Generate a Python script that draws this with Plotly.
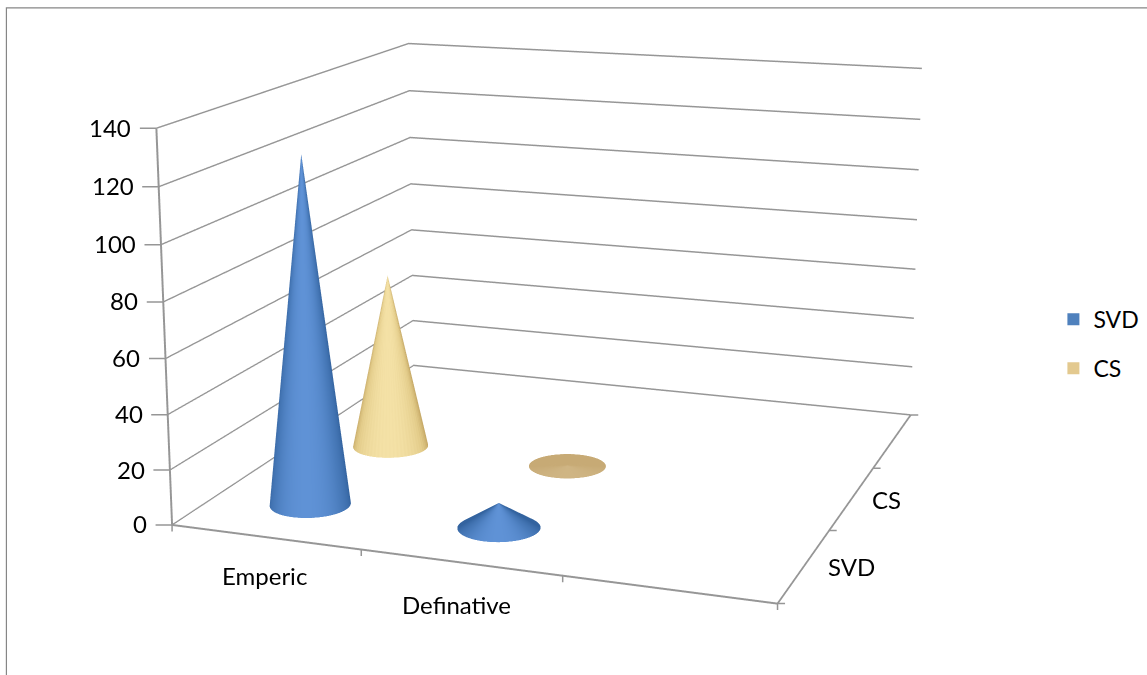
import numpy as np
import plotly.graph_objects as go

categories = ["Emperic", "Definative"]
series_names = ["SVD", "CS"]
svd_values = [127, 9]
cs_values = [67.5, 0.3]
z_ticks = [0, 20, 40, 60, 80, 100, 120, 140]
x_edges = [-0.5, 0.5, 1.5, 2.5]
y_edges = [-0.5, 0.5, 1.5, 2.5]

# Camera (Excel-style off-axis perspective)
ASP = dict(x=1.5, y=1.4815, z=0.9715)
EYE = np.array([1.9131, -5.4172, 1.4287])
YAW, PITCH, ROLL = -0.3550, 0.2164, -0.0043
CX, CY, H = 531.59, 221.15, 1922
W = 1240
dx = W / 2 - CX
dy = H / 2 - CY

f = np.array([np.cos(PITCH) * np.sin(YAW), np.cos(PITCH) * np.cos(YAW), -np.sin(PITCH)])
r0 = np.array([f[1], -f[0], 0.0]); r0 /= np.linalg.norm(r0)
u0 = np.cross(r0, f)
UP = -np.sin(ROLL) * r0 + np.cos(ROLL) * u0
CEN = EYE + f * np.linalg.norm(EYE)


def px(x):
    return (x + dx) / W


def py(y):
    return 1 - (y + dy) / H


RAD_X = 0.2
RAD_Y = RAD_X * ASP["x"] / ASP["y"]
view = np.arctan2(-f[1], -f[0])


def cone(xc, yc, h, stops, grain=0.0):
    th = np.linspace(0, 2 * np.pi, 241)
    T_, R = np.meshgrid(th, np.array([0, 1]))
    X = xc + RAD_X * R * np.cos(T_)
    Y = yc + RAD_Y * R * np.sin(T_)
    Z = h * (1 - R)
    S = np.clip(np.cos(T_ - view), 0, 1) + grain * np.sin(60 * T_)
    return go.Surface(x=X, y=Y, z=Z, surfacecolor=np.clip(S, 0, 1), cmin=0, cmax=1, colorscale=stops,
                      showscale=False, hoverinfo="skip",
                      lighting=dict(ambient=1, diffuse=0, specular=0, roughness=1, fresnel=0))


blue = [[0, "#33639f"], [0.6, "#4a7cbc"], [1, "#5f92d6"]]
tan = [[0, "#c2a461"], [0.5, "#e3cc8a"], [1, "#f4e1a6"]]
flat = [[0, "#c7aa75"], [1, "#cfb584"]]

fig = go.Figure()
for i in range(2):
    fig.add_trace(cone(i, 1, cs_values[i], flat if cs_values[i] < 1 else tan, 0.04))
for i in range(2):
    fig.add_trace(cone(i, 0, svd_values[i], blue))
for n, c in zip(series_names, ["#4f81bd", "#e3c98f"]):
    fig.add_trace(go.Scatter3d(x=[None], y=[None], z=[None], mode="markers", name=n, legendgroup=n,
                               marker=dict(symbol="square", size=16, color=c)))

GR = "#969696"
ax = dict(showbackground=False, showspikes=False, showgrid=False, zeroline=False, showline=True,
          linecolor=GR, linewidth=4, title="", ticks="", showticklabels=False)
TXT = dict(family="Lato", size=24, color="#000")
tick = dict(text="", showarrow=True, arrowhead=0, arrowwidth=1.5, arrowcolor=GR, standoff=0)
ann = []
for v in z_ticks:
    ann.append(dict(x=-0.5, y=-0.5, z=v, text=str(v), showarrow=False, xanchor="right", xshift=-23, yshift=1, font=TXT))
    ann.append(dict(tick, x=-0.5, y=-0.5, z=v, ax=-18, ay=0))
for i, (c, sx, sy) in enumerate(zip(categories, [-1, -4], [-38, -42])):
    ann.append(dict(x=i, y=-0.5, z=0, text=c, showarrow=False, xshift=sx, yshift=sy, font=TXT))
for v in x_edges:
    ann.append(dict(tick, x=v, y=-0.5, z=0, ax=0, ay=8))
for v in y_edges:
    ann.append(dict(tick, x=2.5, y=v, z=0, ax=9, ay=0))
for i, (c, sx) in enumerate(zip(series_names, [22, 18])):
    ann.append(dict(x=2.5, y=i, z=0, text=c, showarrow=False, xanchor="left", xshift=sx, yshift=-1, font=TXT))

fig.update_layout(
    width=W, height=H, margin=dict(l=0, r=0, t=0, b=0), paper_bgcolor="white", font=TXT,
    legend=dict(x=px(1053), y=py(344), xanchor="left", yanchor="middle", itemsizing="constant", tracegroupgap=16,
                font=dict(family="Lato", size=23, color="#000")),
    scene=dict(domain=dict(x=[0, 1], y=[0, 1]), aspectmode="manual", aspectratio=ASP,
               camera=dict(eye=dict(zip("xyz", map(float, EYE))), center=dict(zip("xyz", map(float, CEN))),
                           up=dict(zip("xyz", map(float, UP))), projection=dict(type="perspective")),
               xaxis=dict(ax, range=[-0.5, 2.5], tickvals=[0, 1]),
               yaxis=dict(ax, range=[-0.5, 2.5], tickvals=[0, 1]),
               zaxis=dict(ax, range=[0, 140], tickvals=z_ticks, showgrid=True, gridcolor=GR, gridwidth=3),
               annotations=ann),
    shapes=[dict(type="rect", xref="paper", yref="paper", x0=px(6), x1=1, y0=0, y1=py(8),
                 line=dict(color="#868686", width=1.2))],
)
post = ("var g=document.getElementById('{plot_id}');document.documentElement.style.overflow='hidden';"
        "document.body.style.margin='0';document.body.style.overflow='hidden';g.style.position='absolute';"
        f"g.style.left='{-dx}px';g.style.top='{-dy}px';")
fig.write_html("out.html", post_script=post)
